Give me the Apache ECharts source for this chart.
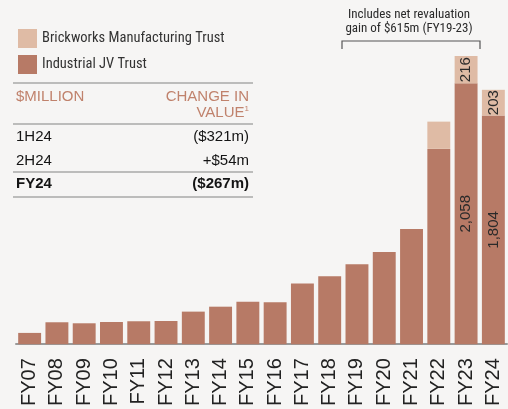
<!DOCTYPE html>
<html>
<head>
<meta charset="utf-8">
<script src="https://cdn.jsdelivr.net/npm/echarts@6/dist/echarts.min.js"></script>
<style>
  html, body { margin: 0; padding: 0; background: #f6f5f4; }
  #chart { width: 508px; height: 409px; }
</style>
</head>
<body>
<div id="chart"></div>
<script>
// data ($ million)
var years = ['FY07', 'FY08', 'FY09', 'FY10', 'FY11', 'FY12', 'FY13', 'FY14', 'FY15',
  'FY16', 'FY17', 'FY18', 'FY19', 'FY20', 'FY21', 'FY22', 'FY23', 'FY24']
var industrialJV = [89, 173, 165, 175, 181, 183, 257, 296, 335, 330, 479, 536, 630, 728, 908, 1541, 2058, 1804]
var brickworksMfg = [0, 0, 0, 0, 0, 0, 0, 0, 0, 0, 0, 0, 0, 0, 0, 215, 216, 203]
// which bars get a value printed on them
var labelledYears = ['FY23', 'FY24']

var tableHead = ['$MILLION', 'CHANGE IN', 'VALUE']
var tableLabels = ['1H24', '2H24', 'FY24']
var tableValues = ['($321m)', '+$54m', '($267m)']

var note = ['Includes net revaluation', 'gain of $615m (FY19-23)']

var darkColor = '#b77a66'
var lightColor = '#dfbba5'
var narrow = '"Liberation Sans Narrow", "Roboto Condensed", Roboto, sans-serif'
var sans = '"Liberation Sans", Arial, sans-serif'

function makeData(values) {
    return values.map(function (v, i) {
        return {
            value: v,
            label: { show: labelledYears.indexOf(years[i]) >= 0 && v > 0 }
        }
    })
}

var chart = echarts.init(document.getElementById('chart'))

var graphics = []
// table rules
;[83, 124, 172, 197].forEach(function (y) {
    graphics.push({
        type: 'line', shape: { x1: 13, y1: y, x2: 253, y2: y },
        style: { stroke: '#a8a8a8', lineWidth: 1.5 }, silent: true
    })
})
graphics.push({ type: 'text', left: 16, top: 89, style: { text: tableHead[0], font: '15px ' + sans, fill: '#c0826c' } })
graphics.push({ type: 'text', right: 259, top: 89, style: { text: tableHead[1], font: '15px ' + sans, fill: '#c0826c', align: 'right' } })
graphics.push({
    type: 'text', x: 249, y: 113, style: {
        text: '{a|' + tableHead[2] + '}{s|1}', align: 'right', verticalAlign: 'middle',
        rich: { a: { font: '15px ' + sans, fill: '#c0826c' }, s: { font: '8px ' + sans, fill: '#c0826c', verticalAlign: 'top', padding: [0, 0, 8, 0] } }
    }
})
var rowY = [137, 161, 184]
tableLabels.forEach(function (t, i) {
    var weight = i === 2 ? 'bold ' : ''
    graphics.push({ type: 'text', x: 16, y: rowY[i], style: { text: t, font: weight + '15px ' + sans, fill: '#141414', verticalAlign: 'middle' } })
    graphics.push({ type: 'text', x: 249, y: rowY[i], style: { text: tableValues[i], font: weight + '15px ' + sans, fill: '#141414', align: 'right', verticalAlign: 'middle' } })
})
// annotation over FY19-FY23
graphics.push({ type: 'text', x: 409, y: 15, style: { text: note[0], font: '13px ' + narrow, fill: '#2a2a2a', align: 'center', verticalAlign: 'middle' } })
graphics.push({ type: 'text', x: 409, y: 29, style: { text: note[1], font: '13px ' + narrow, fill: '#2a2a2a', align: 'center', verticalAlign: 'middle' } })
graphics.push({
    type: 'polyline', shape: { points: [[342, 49], [342, 41], [480, 41], [480, 49]] },
    style: { stroke: '#555', lineWidth: 1.2, fill: null }, silent: true
})

var option = {
    backgroundColor: '#f6f5f4',
    animation: false,
    legend: {
        data: ['Brickworks Manufacturing Trust', 'Industrial JV Trust'],
        orient: 'vertical',
        left: 13,
        top: 24,
        itemWidth: 19,
        itemHeight: 19,
        itemGap: 7,
        icon: 'rect',
        textStyle: { fontSize: 14.5, fontFamily: narrow, color: '#333' }
    },
    grid: { left: 16, right: 1, top: 40, bottom: 63 },
    xAxis: {
        type: 'category',
        data: years,
        axisTick: { show: false },
        axisLine: { lineStyle: { color: '#9a9a9a', width: 2 } },
        axisLabel: { rotate: 90, fontSize: 20, fontFamily: sans, color: '#222', margin: 14, interval: 0 }
    },
    yAxis: {
        type: 'value',
        min: 0,
        max: 2400,
        show: false,
        splitLine: { show: false }
    },
    series: [
        {
            name: 'Industrial JV Trust',
            type: 'bar',
            stack: 'total',
            barCategoryGap: '16%',
            itemStyle: { color: darkColor },
            label: {
                position: 'inside', rotate: 90, fontSize: 15, fontFamily: sans, color: '#2a2a2a',
                formatter: function (p) { return p.value.toLocaleString('en-US') }
            },
            data: makeData(industrialJV)
        },
        {
            name: 'Brickworks Manufacturing Trust',
            type: 'bar',
            stack: 'total',
            barCategoryGap: '16%',
            itemStyle: { color: lightColor },
            label: {
                position: 'inside', rotate: 90, fontSize: 15, fontFamily: sans, color: '#2a2a2a',
                formatter: function (p) { return p.value.toLocaleString('en-US') }
            },
            data: makeData(brickworksMfg)
        }
    ],
    graphic: graphics
}

chart.setOption(option)
</script>
</body>
</html>
